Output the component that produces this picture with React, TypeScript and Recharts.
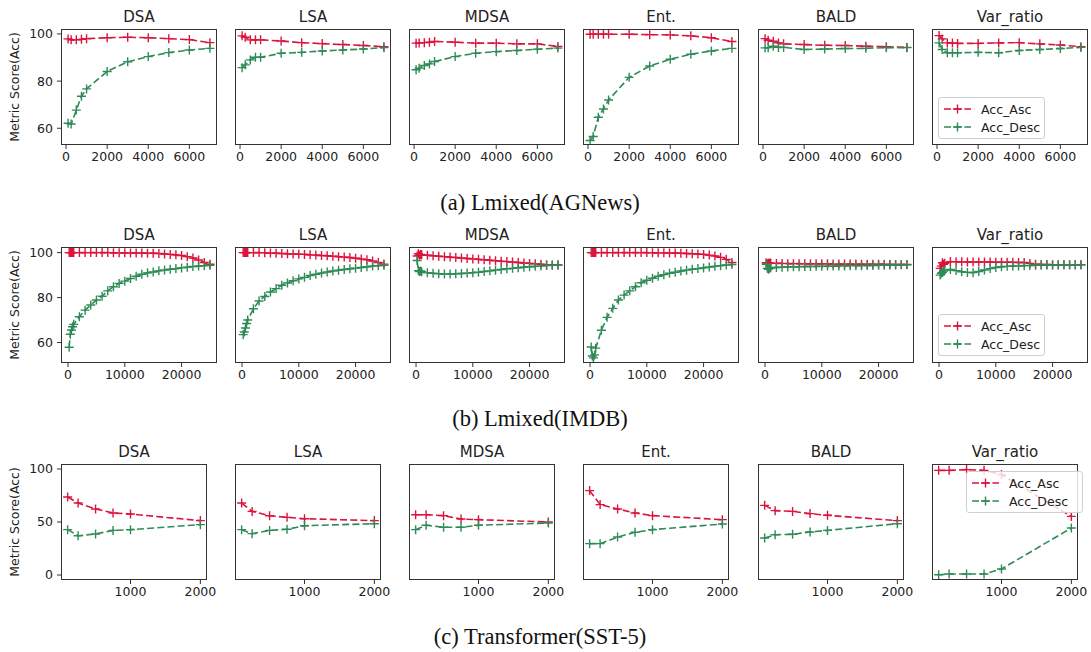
import React from "react";
import { LineChart, Line, XAxis, YAxis } from "recharts";

// ---- data ----
const methods = ["DSA", "LSA", "MDSA", "Ent.", "BALD", "Var_ratio"];

// (a) Lmixed(AGNews)
const agX = [100, 250, 500, 750, 1000, 2000, 3000, 4000, 5000, 6000, 7000];
const agDsaAsc = [97.9, 97.5, 97.5, 97.7, 98.0, 98.4, 98.6, 98.4, 98.0, 97.6, 96.3];
const agDsaDesc = [62.1, 61.8, 67.7, 73.6, 76.7, 84.1, 88.2, 90.4, 92.1, 93.2, 93.9];
const agLsaAsc = [99.2, 98.6, 97.5, 97.5, 97.5, 97.0, 96.3, 95.9, 95.5, 95.1, 94.6];
const agLsaDesc = [85.7, 86.9, 89.0, 90.1, 90.1, 91.8, 92.2, 92.8, 93.2, 93.6, 94.2];
const agMdsaAsc = [96.1, 96.2, 96.3, 96.5, 96.8, 96.5, 96.1, 96.1, 95.8, 95.8, 94.7];
const agMdsaDesc = [84.8, 85.5, 86.6, 87.3, 88.3, 90.4, 91.8, 92.5, 93.0, 93.5, 94.0];
const agEntAsc = [99.9, 99.9, 99.9, 99.9, 99.9, 99.9, 99.7, 99.6, 99.2, 98.4, 96.8];
const agEntDesc = [54.8, 56.5, 64.7, 68.2, 72.0, 81.6, 86.4, 89.3, 91.4, 92.8, 93.9];
const agBaldAsc = [98.0, 97.3, 96.9, 96.2, 95.8, 95.5, 95.2, 95.1, 94.8, 94.6, 94.3];
const agBaldDesc = [94.1, 94.2, 94.8, 94.3, 94.3, 93.4, 93.6, 93.8, 93.9, 94.2, 94.2];
const agVarAsc = [99.3, 97.9, 96.2, 96.2, 96.0, 96.0, 96.2, 96.3, 95.8, 95.3, 94.6];
const agVarDesc = [96.2, 93.4, 92.0, 92.0, 92.0, 92.2, 92.0, 93.0, 93.4, 93.8, 94.3];

// (b) Lmixed(IMDB)
const imX = [200, 400, 600, 800, 1000, 2000, 3000, 4000, 5000, 6000, 7000, 8000, 9000, 10000, 11000, 12000, 13000,
  14000, 15000, 16000, 17000, 18000, 19000, 20000, 21000, 22000, 23000, 24000, 25000];
const imDsaAsc = [100, 100, 100, 100, 100, 100, 100, 100, 100, 100, 100, 99.9, 99.9, 99.9, 99.8, 99.8, 99.8, 99.7,
  99.7, 99.6, 99.4, 99.2, 99.0, 98.7, 98.2, 97.6, 96.7, 95.6, 94.8];
const imDsaDesc = [57.9, 63.7, 65.6, 67.0, 68.1, 71.5, 74.4, 76.7, 78.9, 80.6, 83.0, 84.8, 86.3, 87.3, 88.5, 89.5,
  90.4, 91.0, 91.4, 91.9, 92.3, 92.6, 92.9, 93.2, 93.5, 93.8, 94.0, 94.2, 94.4];
const imLsaAsc = [100, 100, 100, 100, 100, 100, 100, 99.9, 99.8, 99.7, 99.6, 99.5, 99.4, 99.3, 99.2, 99.0, 98.9,
  98.7, 98.6, 98.4, 98.2, 98.0, 97.8, 97.5, 97.2, 96.8, 96.3, 95.6, 94.9];
const imLsaDesc = [63.5, 64.7, 66.5, 68.5, 70.0, 75.0, 78.5, 80.5, 82.5, 84.0, 85.5, 86.5, 87.5, 88.3, 89.0, 89.8,
  90.4, 90.9, 91.4, 91.8, 92.2, 92.5, 92.8, 93.1, 93.4, 93.7, 94.0, 94.2, 94.4];
const imMdsaAsc = [98.5, 99.5, 98.8, 99.2, 99.0, 98.8, 98.6, 98.4, 98.2, 98.0, 97.8, 97.6, 97.4, 97.2, 97.0, 96.8,
  96.6, 96.4, 96.2, 96.0, 95.8, 95.6, 95.4, 95.2, 95.0, 94.8, 94.6, 94.5, 94.5];
const imMdsaDesc = [96.5, 92.0, 91.6, 91.8, 91.5, 91.0, 90.8, 90.6, 90.5, 90.5, 90.6, 90.7, 90.9, 91.1, 91.3, 91.6,
  91.9, 92.2, 92.5, 92.8, 93.0, 93.3, 93.5, 93.7, 93.9, 94.1, 94.3, 94.4, 94.5];
const imEntAsc = [100, 100, 100, 100, 100, 100, 100, 100, 100, 100, 100, 100, 100, 100, 99.9, 99.9, 99.9, 99.8, 99.8,
  99.7, 99.6, 99.5, 99.4, 99.2, 98.9, 98.5, 97.9, 97.0, 95.6];
const imEntDesc = [58.0, 54.0, 53.2, 54.5, 57.5, 65.5, 71.2, 75.2, 78.9, 81.1, 83.0, 84.8, 86.6, 87.7, 88.6, 89.5,
  90.2, 90.8, 91.3, 91.8, 92.2, 92.6, 92.9, 93.2, 93.6, 93.9, 94.2, 94.5, 94.7];
const imBaldAsc = [95.5, 95.0, 95.3, 95.4, 95.3, 95.2, 95.2, 95.1, 95.1, 95.1, 95.0, 95.0, 95.0, 95.0, 95.0, 94.9,
  94.9, 94.9, 94.9, 94.9, 94.8, 94.8, 94.8, 94.8, 94.8, 94.7, 94.7, 94.7, 94.7];
const imBaldDesc = [94.8, 93.0, 92.6, 93.0, 93.3, 93.4, 93.5, 93.6, 93.7, 93.7, 93.8, 93.8, 93.9, 93.9, 94.0, 94.0,
  94.1, 94.1, 94.2, 94.2, 94.2, 94.3, 94.3, 94.4, 94.4, 94.5, 94.5, 94.6, 94.6];
const imVarAsc = [93.0, 94.0, 95.5, 94.8, 95.3, 96.0, 95.9, 95.9, 95.8, 95.8, 95.8, 95.8, 95.8, 95.7, 95.7, 95.7,
  95.7, 95.6, 95.6, 95.2, 94.8, 94.7, 94.7, 94.6, 94.6, 94.6, 94.6, 94.6, 94.6];
const imVarDesc = [90.0, 90.8, 91.2, 91.8, 92.2, 92.5, 92.0, 91.5, 91.2, 91.1, 91.6, 92.3, 92.9, 93.4, 93.7, 93.9,
  94.0, 94.1, 94.2, 94.3, 94.4, 94.4, 94.5, 94.5, 94.5, 94.6, 94.6, 94.6, 94.6];

// (c) Transformer(SST-5)
const sstX = [100, 250, 500, 750, 1000, 2000];
const sstDsaAsc = [73.6, 67.9, 62.3, 58.5, 57.5, 51.3];
const sstDsaDesc = [42.8, 37.1, 38.7, 42.1, 42.8, 47.5];
const sstLsaAsc = [67.9, 60.0, 55.9, 54.4, 53.1, 51.3];
const sstLsaDesc = [42.8, 39.0, 42.1, 43.1, 46.5, 48.4];
const sstMdsaAsc = [56.9, 56.9, 56.0, 52.8, 52.2, 50.0];
const sstMdsaDesc = [42.8, 46.9, 45.0, 45.0, 46.9, 49.1];
const sstEntAsc = [79.6, 66.4, 62.3, 58.5, 56.0, 52.2];
const sstEntDesc = [29.6, 29.6, 35.8, 40.3, 42.8, 48.1];
const sstBaldAsc = [65.7, 60.7, 60.0, 57.9, 56.3, 51.3];
const sstBaldDesc = [34.9, 38.0, 38.4, 40.6, 42.1, 48.4];
const sstVarAsc = [98.7, 98.7, 99.4, 98.7, 94.7, 55.3];
const sstVarDesc = [0.3, 0.9, 0.9, 0.9, 5.7, 44.3];

const agTicksX = [0, 2000, 4000, 6000];
const imTicksX = [0, 10000, 20000];
const sstTicksX = [1000, 2000];
const agTicksY = [60, 80, 100];
const imTicksY = [60, 80, 100];
const sstTicksY = [0, 50, 100];

const RED = "#dc143c";
const GREEN = "#2e8b57";
const SANS = "'DejaVu Sans', Verdana, sans-serif";
const SERIF = "'Liberation Serif', 'Times New Roman', serif";
const DASH = "7 3.2";

const colLefts = [61, 235, 409, 583, 758, 932];

const rows = [
  {
    top: 29, w: 156, h: 116, x: agX, xDomain: [-245, 7345], xTicks: agTicksX, yDomain: [52.9, 102.1], yTicks: agTicksY,
    series: [[agDsaAsc, agDsaDesc], [agLsaAsc, agLsaDesc], [agMdsaAsc, agMdsaDesc], [agEntAsc, agEntDesc], [agBaldAsc, agBaldDesc], [agVarAsc, agVarDesc]],
    caption: "(a) Lmixed(AGNews)", captionY: 203, legend: { left: 938, top: 97, w: 107 },
  },
  {
    top: 247, w: 156, h: 116, x: imX, xDomain: [-1240, 26240], xTicks: imTicksX, yDomain: [50.9, 102.5], yTicks: imTicksY,
    series: [[imDsaAsc, imDsaDesc], [imLsaAsc, imLsaDesc], [imMdsaAsc, imMdsaDesc], [imEntAsc, imEntDesc], [imBaldAsc, imBaldDesc], [imVarAsc, imVarDesc]],
    caption: "(b) Lmixed(IMDB)", captionY: 419, legend: { left: 938, top: 314, w: 107 },
  },
  {
    top: 464, w: 146, h: 116, x: sstX, xDomain: [5, 2095], xTicks: sstTicksX, yDomain: [-4.7, 104.7], yTicks: sstTicksY,
    series: [[sstDsaAsc, sstDsaDesc], [sstLsaAsc, sstLsaDesc], [sstMdsaAsc, sstMdsaDesc], [sstEntAsc, sstEntDesc], [sstBaldAsc, sstBaldDesc], [sstVarAsc, sstVarDesc]],
    caption: "(c) Transformer(SST-5)", captionY: 637, legend: { left: 966, top: 471, w: 117 },
  },
];

const plusDot = (color: string) => (p: any) => {
  const { cx, cy, index } = p;
  if (cx == null || cy == null) return <g key={index} />;
  return (
    <path key={index} d={`M${cx - 4.5},${cy}h9M${cx},${cy - 4.5}v9`} stroke={color} strokeWidth={1.4} fill="none" />
  );
};

const ML = 50, MT = 5, MR = 20, MB = 25;

function Panel({ row, col }: { row: any; col: number }) {
  const left = colLefts[col];
  const [asc, desc] = row.series[col];
  const data = row.x.map((x: number, i: number) => ({ x, asc: asc[i], desc: desc[i] }));
  const showY = col === 0;
  return (
    <>
      <div style={{ position: "absolute", left, top: row.top - 21, width: row.w, textAlign: "center", fontFamily: SANS, fontSize: 15, color: "#222", lineHeight: "18px" }}>
        {methods[col]}
      </div>
      <div style={{ position: "absolute", left: left - ML, top: row.top - MT }}>
        <LineChart width={row.w + ML + MR} height={row.h + MT + MB} data={data}
          margin={{ top: MT, right: MR, bottom: 0, left: 5 }} style={{ overflow: "visible" }}>
          <XAxis dataKey="x" type="number" domain={row.xDomain} ticks={row.xTicks} allowDataOverflow
            height={MB} axisLine={false} tickSize={4} tickMargin={3} interval={0}
            tickLine={{ stroke: "#333" }} tick={{ fontSize: 12.5, fill: "#222", fontFamily: SANS }} />
          <YAxis type="number" domain={row.yDomain} ticks={row.yTicks} allowDataOverflow width={45}
            axisLine={false} tickSize={4} tickMargin={4} interval={0} tickLine={{ stroke: "#333" }}
            tick={showY ? { fontSize: 12.5, fill: "#222", fontFamily: SANS } : false} />
          <Line dataKey="asc" stroke={RED} strokeWidth={1.6} strokeDasharray={DASH} dot={plusDot(RED)}
            activeDot={false} isAnimationActive={false} />
          <Line dataKey="desc" stroke={GREEN} strokeWidth={1.6} strokeDasharray={DASH} dot={plusDot(GREEN)}
            activeDot={false} isAnimationActive={false} />
        </LineChart>
      </div>
      <div style={{ position: "absolute", left, top: row.top, width: row.w, height: row.h, border: "1px solid #333", boxSizing: "border-box", pointerEvents: "none" }} />
    </>
  );
}

function LegendBox({ left, top, w }: { left: number; top: number; w: number }) {
  const items = [["Acc_Asc", RED], ["Acc_Desc", GREEN]];
  return (
    <div style={{ position: "absolute", left, top, width: w, height: 42, boxSizing: "border-box", border: "1px solid #d0d0d0", borderRadius: 3, background: "rgba(255,255,255,0.8)" }}>
      {items.map(([label, color], i) => (
        <div key={label} style={{ position: "absolute", left: 0, top: 2 + i * 18, height: 18, display: "flex", alignItems: "center" }}>
          <svg width={40} height={18} style={{ display: "block" }}>
            <line x1={5} y1={9} x2={32} y2={9} stroke={color} strokeWidth={1.6} strokeDasharray={DASH} />
            <path d="M14,9h9M18.5,4.5v9" stroke={color} strokeWidth={1.4} />
          </svg>
          <span style={{ fontFamily: SANS, fontSize: 12.5, color: "#222", marginLeft: 2 }}>{label}</span>
        </div>
      ))}
    </div>
  );
}

export default function App() {
  return (
    <div style={{ position: "absolute", left: 0, top: 0, width: 1091, height: 652, background: "#fff", overflow: "hidden" }}>
      {rows.map((row, r) => (
        <React.Fragment key={r}>
          {methods.map((_, c) => <Panel key={c} row={row} col={c} />)}
          <div style={{ position: "absolute", left: 15 - 60, top: row.top + row.h / 2 - 8, width: 120, height: 16, textAlign: "center", transform: "rotate(-90deg)", fontFamily: SANS, fontSize: 12.5, color: "#222", lineHeight: "16px" }}>
            Metric Score(Acc)
          </div>
          <LegendBox {...row.legend} />
          <div style={{ position: "absolute", left: 0, width: 1080, top: row.captionY - 13, textAlign: "center", fontFamily: SERIF, fontSize: 22.5, lineHeight: "26px", color: "#111" }}>
            {row.caption}
          </div>
        </React.Fragment>
      ))}
    </div>
  );
}
